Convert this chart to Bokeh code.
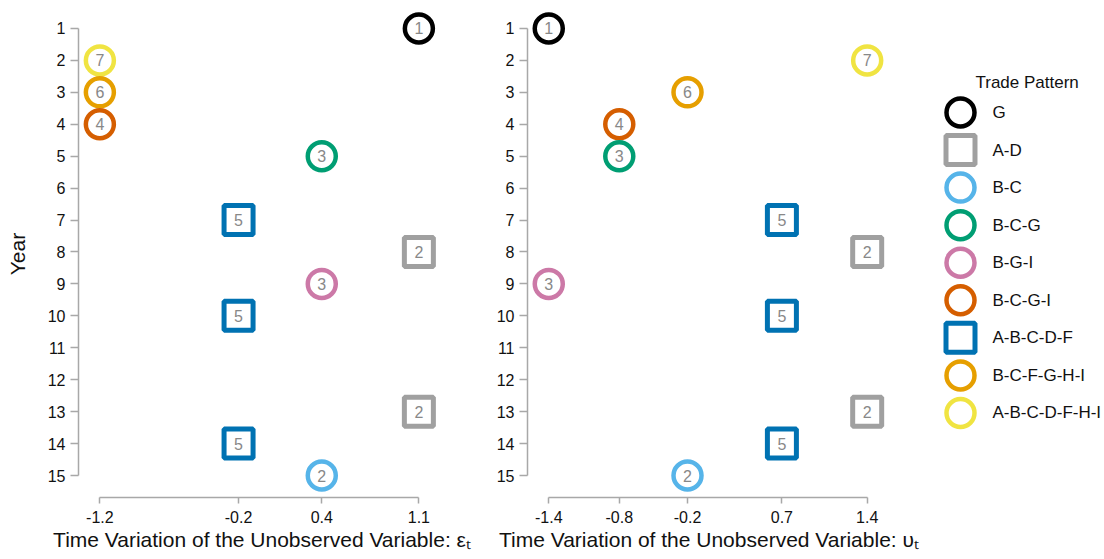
from bokeh.plotting import figure
from bokeh.models import ColumnDataSource, Range1d, FixedTicker, Label
from bokeh.layouts import row
from bokeh.embed import file_html
from bokeh.resources import INLINE
from bokeh.core.properties import value

# ---------------- data ----------------
patterns = ["G", "A-D", "B-C", "B-C-G", "B-G-I", "B-C-G-I",
            "A-B-C-D-F", "B-C-F-G-H-I", "A-B-C-D-F-H-I"]
pattern_colors = ["#000000", "#a0a0a0", "#56B4E9", "#009E73", "#CC79A7",
                  "#D55E00", "#0072B2", "#E69F00", "#F0E442"]
pattern_markers = ["circle", "square", "circle", "circle", "circle",
                   "circle", "square", "circle", "circle"]
pattern_counts = [1, 2, 2, 3, 3, 4, 5, 6, 7]

years = [1, 2, 3, 4, 5, 7, 8, 9, 10, 13, 14, 15]
year_patterns = ["G", "A-B-C-D-F-H-I", "B-C-F-G-H-I", "B-C-G-I", "B-C-G",
                 "A-B-C-D-F", "A-D", "B-G-I", "A-B-C-D-F", "A-D",
                 "A-B-C-D-F", "B-C"]
eps_values = [1.1, -1.2, -1.2, -1.2, 0.4, -0.2, 1.1, 0.4, -0.2, 1.1, -0.2, 0.4]
ups_values = [-1.4, 1.4, -0.18, -0.78, -0.78, 0.65, 1.4, -1.4, 0.65, 1.4, 0.65, -0.18]

eps_ticks = [-1.2, -0.2, 0.4, 1.1]
eps_tick_labels = ["-1.2", "-0.2", "0.4", "1.1"]
ups_ticks = [-1.4, -0.78, -0.18, 0.65, 1.4]
ups_tick_labels = ["-1.4", "-0.8", "-0.2", "0.7", "1.4"]
year_ticks = list(range(1, 16))

eps_title = "Time Variation of the Unobserved Variable: \u03b5\u209c"
ups_title = "Time Variation of the Unobserved Variable: \u03c5\u209c"
legend_title = "Trade Pattern"

# ---------------- style ----------------
FONT = "Liberation Sans"
AXIS_GRAY = "#a8a8a8"
NUM_GRAY = "#888888"
marker_size = {"circle": 28, "square": 29}
marker_lw = {"circle": 4.5, "square": 5}
FRAME_H = 487
TOP = 10
BOTTOM = 55

idx = {p: i for i, p in enumerate(patterns)}


def panel(xvals, ticks, tick_labels, xlabel, xr, border_left, border_right,
          frame_width, ylabel):
    mk = [pattern_markers[idx[p]] for p in year_patterns]
    src = ColumnDataSource(dict(
        x=xvals, y=years, pattern=year_patterns,
        color=[pattern_colors[idx[p]] for p in year_patterns],
        marker=mk,
        size=[marker_size[m] for m in mk],
        lw=[marker_lw[m] for m in mk],
        label=[str(pattern_counts[idx[p]]) for p in year_patterns],
    ))
    p = figure(frame_width=frame_width, frame_height=FRAME_H,
               x_range=Range1d(*xr), y_range=Range1d(15.689, 0.4363),
               output_backend="svg", toolbar_location=None,
               min_border_left=border_left, min_border_right=border_right,
               min_border_top=TOP, min_border_bottom=BOTTOM)
    p.scatter(x="x", y="y", marker="marker", size="size", line_width="lw",
              line_color="color", fill_color="white", source=src)
    p.text(x="x", y="y", text="label", text_color=NUM_GRAY,
           text_font=value(FONT), text_font_size="16px",
           text_align="center", text_baseline="middle", source=src)

    p.xaxis.ticker = FixedTicker(ticks=ticks)
    p.xaxis.major_label_overrides = {t: l for t, l in zip(ticks, tick_labels)}
    p.xaxis.bounds = (ticks[0], ticks[-1])
    p.xaxis.axis_label = xlabel
    p.xaxis.major_tick_out = 6
    p.xaxis.major_label_standoff = 7
    p.xaxis.axis_label_standoff = 2

    p.yaxis.ticker = FixedTicker(ticks=year_ticks)
    p.yaxis.bounds = (1, 15)
    p.yaxis.major_tick_out = 8
    p.yaxis.major_label_standoff = 5
    if ylabel:
        p.yaxis.axis_label = ylabel
        p.yaxis.axis_label_standoff = 16

    for ax in p.axis:
        ax.axis_line_color = AXIS_GRAY
        ax.axis_line_width = 1.5
        ax.major_tick_line_color = AXIS_GRAY
        ax.major_tick_line_width = 1.5
        ax.major_tick_in = 0
        ax.minor_tick_line_color = None
        ax.major_label_text_font = FONT
        ax.major_label_text_font_size = "16px"
        ax.major_label_text_color = "#111111"
        ax.axis_label_text_font = FONT
        ax.axis_label_text_font_size = "21px"
        ax.axis_label_text_font_style = "normal"
        ax.axis_label_text_color = "#111111"
    p.grid.visible = False
    p.outline_line_color = None
    return p


p1 = panel(eps_values, eps_ticks, eps_tick_labels, eps_title,
           (-1.354, 1.292), 78, 30, 367, "Year")
p2 = panel(ups_values, ups_ticks, ups_tick_labels, ups_title,
           (-1.587, 1.605), 52, 48, 363, None)

# ---------------- legend panel ----------------
ROW_H = 37.56
leg_src = ColumnDataSource(dict(
    x=[0] * len(patterns), y=list(range(len(patterns))), name=patterns,
    color=pattern_colors, marker=pattern_markers,
    size=[marker_size[m] for m in pattern_markers],
    lw=[marker_lw[m] for m in pattern_markers],
))
top = -102 / ROW_H
pl = figure(frame_width=164, frame_height=FRAME_H,
            x_range=Range1d(-22, 142),
            y_range=Range1d(top + FRAME_H / ROW_H, top),
            x_axis_location=None, y_axis_location=None,
            output_backend="svg", toolbar_location=None,
            min_border_left=0, min_border_right=0,
            min_border_top=TOP, min_border_bottom=BOTTOM)
pl.scatter(x="x", y="y", marker="marker", size="size", line_width="lw",
           line_color="color", fill_color="white", source=leg_src)
pl.text(x="x", y="y", text="name", x_offset=32, text_color="#111111",
        text_font=value(FONT), text_font_size="17px",
        text_align="left", text_baseline="middle", source=leg_src)
pl.add_layout(Label(x=15, y=-30 / ROW_H, text=legend_title,
                    text_font=FONT, text_font_size="17px",
                    text_color="#111111", text_align="left",
                    text_baseline="middle"))
pl.grid.visible = False
pl.outline_line_color = None

layout = row(p1, p2, pl)
open("out.html", "w").write(file_html(layout, INLINE))
